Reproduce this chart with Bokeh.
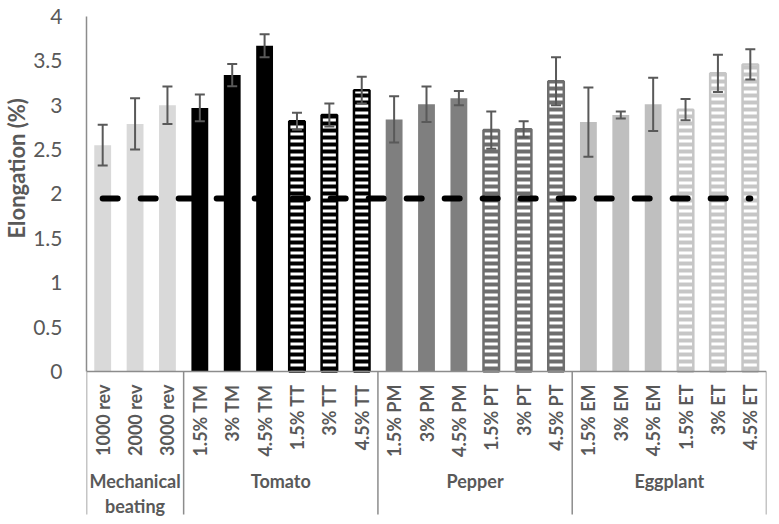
import math
from bokeh.plotting import figure
from bokeh.models import (Range1d, LinearAxis, FixedTicker, ColumnDataSource,
                          Whisker, TeeHead, Title)
from bokeh.core.properties import value
from bokeh.embed import file_html
from bokeh.resources import INLINE

# ---------------- data ----------------
labels = ["1000 rev", "2000 rev", "3000 rev",
          "1.5% TM", "3% TM", "4.5% TM",
          "1.5% TT", "3% TT", "4.5% TT",
          "1.5% PM", "3% PM", "4.5% PM",
          "1.5% PT", "3% PT", "4.5% PT",
          "1.5% EM", "3% EM", "4.5% EM",
          "1.5% ET", "3% ET", "4.5% ET"]
values = [2.55, 2.79, 3.00,
          2.97, 3.34, 3.67,
          2.82, 2.89, 3.17,
          2.84, 3.01, 3.08,
          2.72, 2.73, 3.27,
          2.81, 2.89, 3.01,
          2.95, 3.36, 3.46]
errors = [0.23, 0.29, 0.21,
          0.15, 0.125, 0.13,
          0.095, 0.13, 0.15,
          0.26, 0.20, 0.08,
          0.21, 0.09, 0.27,
          0.39, 0.04, 0.30,
          0.12, 0.21, 0.17]
groups = ["Mechanical\nbeating", "Tomato", "Pepper", "Eggplant"]
group_sizes = [3, 6, 6, 6]
threshold = 1.95
y_ticks = [0, 0.5, 1, 1.5, 2, 2.5, 3, 3.5, 4]
y_tick_labels = ["0", "0.5", "1", "1.5", "2", "2.5", "3", "3.5", "4"]
y_title = "Elongation (%)"

# ---------------- styles ----------------
# one entry per bar: (colour, hatched?)
bar_styles = ([("#d9d9d9", False)] * 3 + [("#000000", False)] * 3 +
              [("#000000", True)] * 3 + [("#7f7f7f", False)] * 3 +
              [("#6e6e6e", True)] * 3 + [("#bfbfbf", False)] * 3 +
              [("#c6c6c6", True)] * 3)
TEXT = "#595959"
AXIS = "#8c8c8c"
FONT = "Lato"

n = len(labels)
xs = list(range(n))

px_per_unit = 88.75
y_max = 4.045
frame_top = 12
frame_h = 506
y_min = y_max - frame_h / px_per_unit

p = figure(width=779, height=524,
           x_range=Range1d(-0.5, n - 0.5), y_range=Range1d(y_min, y_max),
           output_backend="svg", toolbar_location=None,
           x_axis_location=None, y_axis_location=None,
           min_border_left=86, min_border_right=13,
           min_border_top=frame_top, min_border_bottom=524 - frame_top - frame_h)
p.outline_line_color = None
p.background_fill_color = "white"
p.border_fill_color = "white"
for g in p.grid:
    g.visible = False

# y axis (bounded to 0..4)
yaxis = LinearAxis(bounds=(0, 4), ticker=FixedTicker(ticks=y_ticks))
yaxis.major_label_overrides = {t: l for t, l in zip(y_ticks, y_tick_labels)}
yaxis.major_tick_out = 0
yaxis.major_tick_in = 0
yaxis.minor_tick_out = 0
yaxis.minor_tick_in = 0
yaxis.major_label_standoff = 24
yaxis.axis_line_color = AXIS
yaxis.axis_line_width = 1.5
yaxis.major_label_text_font = FONT
yaxis.major_label_text_font_size = "21px"
yaxis.major_label_text_color = TEXT
p.add_layout(yaxis, "left")

# y axis title (starts 238px from top, reading upwards)
p.add_layout(Title(text=y_title, align="left", offset=frame_top + frame_h - 238,
                   vertical_align="middle", standoff=0,
                   text_font=FONT, text_font_style="bold",
                   text_font_size="22px", text_color=TEXT), "left")

# bars
solid = [i for i in xs if not bar_styles[i][1]]
hatched = [i for i in xs if bar_styles[i][1]]
src_s = ColumnDataSource(dict(x=solid, top=[values[i] for i in solid],
                              c=[bar_styles[i][0] for i in solid]))
src_h = ColumnDataSource(dict(x=hatched, top=[values[i] for i in hatched],
                              c=[bar_styles[i][0] for i in hatched]))
p.vbar(x="x", top="top", bottom=0, width=0.52, source=src_s,
       fill_color="c", line_color=None)
p.vbar(x="x", top="top", bottom=0, width=0.48, source=src_h,
       fill_color="white", line_color="c", line_width=2.5,
       hatch_pattern="horizontal_line", hatch_color="c",
       hatch_scale=7, hatch_weight=4)

# error bars
src_e = ColumnDataSource(dict(x=xs,
                              upper=[v + e for v, e in zip(values, errors)],
                              lower=[v - e for v, e in zip(values, errors)]))
wh = Whisker(source=src_e, base="x", upper="upper", lower="lower",
             line_color=TEXT, line_width=2, level="overlay",
             upper_head=TeeHead(size=10, line_color=TEXT, line_width=2),
             lower_head=TeeHead(size=10, line_color=TEXT, line_width=2))
p.add_layout(wh)

# threshold dashed line
p.line(x=[xs[0], xs[-1]], y=[threshold, threshold], line_color="black",
       line_width=6, line_dash="15 23", line_cap="round")

# x axis baseline and group separators
p.segment(x0=[-0.5], y0=[0], x1=[n - 0.5], y1=[0],
          line_color=AXIS, line_width=1.5)
bounds = [-0.5]
for s in group_sizes:
    bounds.append(bounds[-1] + s)
sep_bottom = -143 / px_per_unit
p.segment(x0=bounds, y0=[0] * len(bounds), x1=bounds,
          y1=[sep_bottom] * len(bounds), line_color=AXIS, line_width=1.5)

# category labels (vertical)
p.text(x=xs, y=[-13 / px_per_unit] * n, text=labels, angle=math.pi / 2,
       text_align="right", text_baseline="middle",
       text_font=value(FONT), text_font_style="bold",
       text_font_size="18px", text_color=TEXT)

# group labels
gcent = [(bounds[i] + bounds[i + 1]) / 2 for i in range(len(groups))]
p.text(x=gcent, y=[-99 / px_per_unit] * len(groups), text=groups,
       text_align="center", text_baseline="top",
       text_font=value(FONT), text_font_style="bold",
       text_font_size="18px", text_color=TEXT, text_line_height=1.1)

open("out.html", "w").write(file_html(p, INLINE))
